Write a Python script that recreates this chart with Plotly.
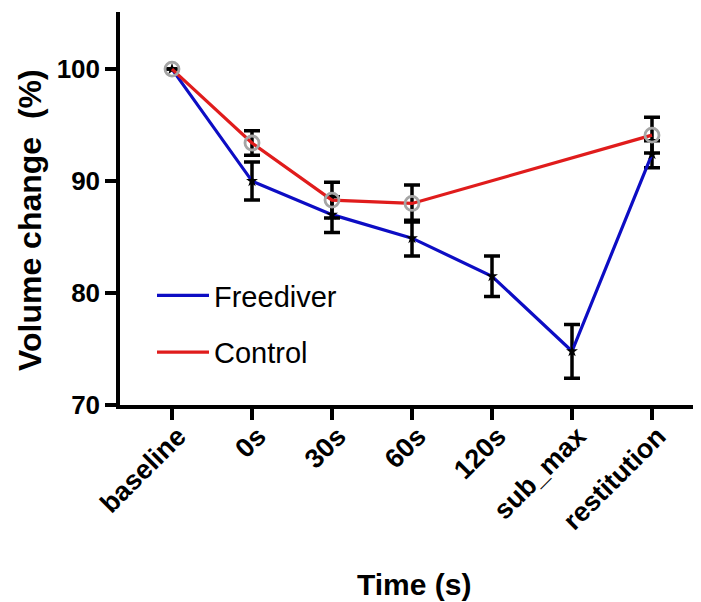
import plotly.graph_objects as go

categories = ["baseline", "0s", "30s", "60s", "120s", "sub_max", "restitution"]
freediver = [100, 90.0, 87.0, 84.9, 81.5, 74.8, 92.4]
freediver_err = [None, 1.7, 1.6, 1.6, 1.8, 2.4, 1.2]
control = [100, 93.4, 88.3, 88.0, None, None, 94.1]
control_err = [None, 1.1, 1.6, 1.65, None, None, 1.6]
y_ticks = [70, 80, 90, 100]

BLUE = "#0d0dc4"
RED = "#e01c1c"
GREY = "#a5a5a5"
FONT = "Arial, Liberation Sans, sans-serif"

# the page body has an 8px default margin; compensate so the viewport matches
OFF = 8
W, H = 701 - OFF, 602 - OFF
PL, PT, PB_Y = 120, 12, 405  # desired plot-area edges in viewport pixels
ml = PL - OFF
mt = PT - OFF
plot_h = PB_Y - PT
mb = H - mt - plot_h
plot_w = W - ml

fig = go.Figure()

fig.add_trace(go.Scatter(
    x=categories, y=freediver, mode="lines+markers", name="Freediver",
    line=dict(color=BLUE, width=3.2),
    marker=dict(symbol="star", size=9, color="black"),
    error_y=dict(type="data", array=freediver_err, visible=True,
                 color="black", thickness=3.5, width=8),
    showlegend=False, hoverinfo="skip",
))
fig.add_trace(go.Scatter(
    x=categories, y=control, mode="lines+markers", name="Control",
    connectgaps=True,
    line=dict(color=RED, width=3.2),
    marker=dict(symbol="circle-open", size=14, color=GREY, line=dict(width=2.8, color=GREY)),
    error_y=dict(type="data", array=control_err, visible=True,
                 color="black", thickness=3.5, width=8),
    showlegend=False, hoverinfo="skip",
))
# legend-only line entries
fig.add_trace(go.Scatter(x=[None], y=[None], mode="lines", name="Freediver",
                         line=dict(color=BLUE, width=3.2), legendgroup="a"))
fig.add_trace(go.Scatter(x=[None], y=[None], mode="lines", name="Control",
                         line=dict(color=RED, width=3.2), legendgroup="b"))

fig.update_layout(
    width=W, height=H,
    margin=dict(l=ml, r=0, t=mt, b=mb, autoexpand=False),
    plot_bgcolor="white", paper_bgcolor="white",
    font=dict(family=FONT, color="black"),
    xaxis=dict(type="category", range=[-0.65, -0.65 + plot_w / 80.0],
               tickangle=-45, ticks="outside", ticklen=11, tickwidth=3.5,
               tickcolor="black", showline=True, linewidth=3.5, linecolor="black",
               showgrid=False, zeroline=False, ticklabelstandoff=-10, ticklabelshift=6,
               tickfont=dict(family=FONT, size=27, weight="bold")),
    yaxis=dict(range=[70, 105.1], tickvals=y_ticks, ticks="outside", ticklen=11,
               tickwidth=3.5, tickcolor="black", showline=True, linewidth=3.5,
               linecolor="black", showgrid=False, zeroline=False,
               tickfont=dict(family=FONT, size=26, weight="bold")),
    legend=dict(x=(152 - PL) / plot_w, y=(PB_Y - 270) / plot_h, xanchor="left", yanchor="top",
                font=dict(family=FONT, size=29), bgcolor="rgba(0,0,0,0)",
                tracegroupgap=16, itemwidth=52),
    annotations=[
        dict(text="Volume change\u00a0 (%)", textangle=-90, xref="paper", yref="paper",
             x=(30 - PL) / plot_w, y=(PB_Y - 220) / plot_h, showarrow=False,
             xanchor="center", yanchor="middle",
             font=dict(family=FONT, size=32, weight="bold")),
        dict(text="Time (s)", xref="paper", yref="paper",
             x=(414 - PL) / plot_w, y=(PB_Y - 584) / plot_h, showarrow=False,
             xanchor="center", yanchor="middle",
             font=dict(family=FONT, size=30, weight="bold")),
    ],
)

fig.write_html("out.html")
